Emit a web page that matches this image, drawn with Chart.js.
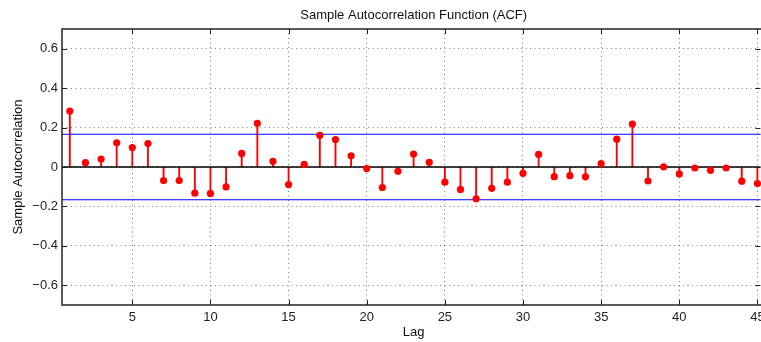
<!DOCTYPE html>
<html>
<head>
<meta charset="utf-8">
<script src="https://cdn.jsdelivr.net/npm/chart.js@4.4.1/dist/chart.umd.min.js"></script>
<style>
  html, body { margin: 0; padding: 0; background: #ffffff; }
  #wrap { width: 761px; height: 342px; position: relative; }
</style>
</head>
<body>
<div id="wrap"><canvas id="c" width="761" height="342"></canvas></div>
<script>
// ---- data ----
const lags = [1,2,3,4,5,6,7,8,9,10,11,12,13,14,15,16,17,18,19,20,21,22,23,24,25,26,27,28,29,30,31,32,33,34,35,36,37,38,39,40,41,42,43,44,45];
const acf = [0.284,0.022,0.040,0.123,0.099,0.119,-0.069,-0.069,-0.133,-0.134,-0.101,0.069,0.222,0.029,-0.089,0.013,0.161,0.139,0.057,-0.008,-0.104,-0.022,0.066,0.024,-0.077,-0.114,-0.161,-0.108,-0.077,-0.032,0.064,-0.049,-0.044,-0.050,0.017,0.141,0.218,-0.071,0.001,-0.035,-0.005,-0.017,-0.005,-0.072,-0.084];
const confBound = 0.166;
const xRange = [0.5, 45.0];
const yRange = [-0.7, 0.7];
const xTicks = [5,10,15,20,25,30,35,40,45];
const yTicks = [-0.6,-0.4,-0.2,0,0.2,0.4,0.6];
const titleText = 'Sample Autocorrelation Function (ACF)';
const xLabel = 'Lag';
const yLabel = 'Sample Autocorrelation';

const pts = lags.map((l, i) => ({x: l, y: acf[i]}));
const FONT = 'Liberation Sans, Arial, Helvetica, sans-serif';

function fmtY(v) {
  if (Math.abs(v) < 1e-9) return '0';
  const s = Math.abs(v).toFixed(1);
  return (v < 0 ? '\u2212' : '') + s;
}

// the axes box in the original extends a little past the picture's right edge,
// so titles are centred on that wider box
const centerPlugin = {
  id: 'centerPlugin',
  beforeDraw(chart) {
    const a = chart.chartArea;
    ['x', 'x2'].forEach(id => {
      const s = chart.scales[id];
      s.left = a.left; s.right = a.right + 8;
    });
  }
};

const boxPlugin = {
  id: 'boxPlugin',
  afterDraw(chart) {
    const {ctx, chartArea: a, scales} = chart;
    ctx.save();
    ctx.strokeStyle = '#262626';
    ctx.lineWidth = 1.5;
    ctx.beginPath();
    ctx.moveTo(a.right + 4, a.top);
    ctx.lineTo(a.left, a.top);
    ctx.lineTo(a.left, a.bottom);
    ctx.lineTo(a.right + 4, a.bottom);
    ctx.stroke();
    ctx.lineWidth = 1;
    ctx.strokeStyle = '#222';
    const tl = 5;
    ctx.beginPath();
    xTicks.forEach(v => {
      const x = Math.round(scales.x.getPixelForValue(v)) + 0.5;
      ctx.moveTo(x, a.bottom); ctx.lineTo(x, a.bottom - tl);
      ctx.moveTo(x, a.top); ctx.lineTo(x, a.top + tl);
    });
    yTicks.forEach(v => {
      const y = Math.round(scales.y.getPixelForValue(v)) + 0.5;
      ctx.moveTo(a.left, y); ctx.lineTo(a.left + tl, y);
      ctx.moveTo(a.right + 3, y); ctx.lineTo(a.right - 2, y);
    });
    ctx.stroke();
    ctx.restore();
  }
};

new Chart(document.getElementById('c'), {
  type: 'bar',
  data: {
    datasets: [
      {
        type: 'scatter',
        data: pts,
        backgroundColor: '#ff0000',
        borderColor: '#ff0000',
        borderWidth: 0,
        pointRadius: 3.6,
        pointHoverRadius: 3.6,
        clip: false,
        order: 0
      },
      {
        type: 'line',
        data: [{x: xRange[0], y: 0}, {x: xRange[1] + 0.2, y: 0}],
        borderColor: '#000000',
        borderWidth: 1.3,
        pointRadius: 0,
        clip: {left: 0, top: 0, bottom: 0, right: 4},
        order: 1
      },
      {
        type: 'line',
        data: [{x: xRange[0], y: confBound}, {x: xRange[1] + 0.2, y: confBound}],
        borderColor: '#0000ff',
        borderWidth: 1.2,
        pointRadius: 0,
        clip: {left: 0, top: 0, bottom: 0, right: 4},
        order: 2
      },
      {
        type: 'line',
        data: [{x: xRange[0], y: -confBound}, {x: xRange[1] + 0.2, y: -confBound}],
        borderColor: '#0000ff',
        borderWidth: 1.2,
        pointRadius: 0,
        clip: {left: 0, top: 0, bottom: 0, right: 4},
        order: 2
      },
      {
        type: 'bar',
        data: pts,
        backgroundColor: '#ff0000',
        borderWidth: 0,
        barThickness: 1.2,
        grouped: false,
        clip: false,
        order: 3
      }
    ]
  },
  options: {
    responsive: false,
    animation: false,
    devicePixelRatio: 1,
    layout: { padding: 0 },
    plugins: {
      legend: { display: false },
      tooltip: { enabled: false },
      title: { display: false }
    },
    scales: {
      x: {
        type: 'linear',
        position: 'bottom',
        offset: false,
        min: xRange[0],
        max: xRange[1],
        afterBuildTicks: s => { s.ticks = xTicks.map(v => ({value: v})); },
        afterFit: s => { s.height = 37; s.paddingLeft = 0; s.paddingRight = 0; },
        grid: { display: true, offset: false, drawTicks: false, color: 'rgba(0,0,0,0.5)', lineWidth: 1 },
        border: { display: false, dash: [1, 3.5] },
        ticks: { color: '#222', font: { family: FONT, size: 13 }, padding: 5, maxRotation: 0, autoSkip: false },
        title: { display: true, text: xLabel, color: '#111', font: { family: FONT, size: 13 }, padding: { top: 0, bottom: 2 } }
      },
      x2: {
        type: 'linear',
        axis: 'x',
        position: 'top',
        offset: false,
        min: 0, max: 1,
        afterFit: s => { s.height = 29; s.paddingLeft = 0; s.paddingRight = 0; },
        grid: { display: false, drawTicks: false },
        border: { display: false },
        ticks: { display: false },
        title: { display: true, text: titleText, color: '#111', font: { family: FONT, size: 13 }, padding: { top: 8, bottom: 0 } }
      },
      y: {
        type: 'linear',
        position: 'left',
        min: yRange[0],
        max: yRange[1],
        afterBuildTicks: s => { s.ticks = yTicks.map(v => ({value: v})); },
        afterFit: s => { s.width = 62; s.paddingTop = 0; s.paddingBottom = 0; },
        grid: { display: true, drawTicks: false, color: 'rgba(0,0,0,0.5)', lineWidth: 1 },
        border: { display: false, dash: [1, 3.5] },
        ticks: { color: '#222', font: { family: FONT, size: 13 }, padding: 4, callback: v => fmtY(v) },
        title: { display: true, text: yLabel, color: '#111', font: { family: FONT, size: 13 }, padding: { top: 11, bottom: 0 } }
      }
    }
  },
  plugins: [centerPlugin, boxPlugin]
});
</script>
</body>
</html>
